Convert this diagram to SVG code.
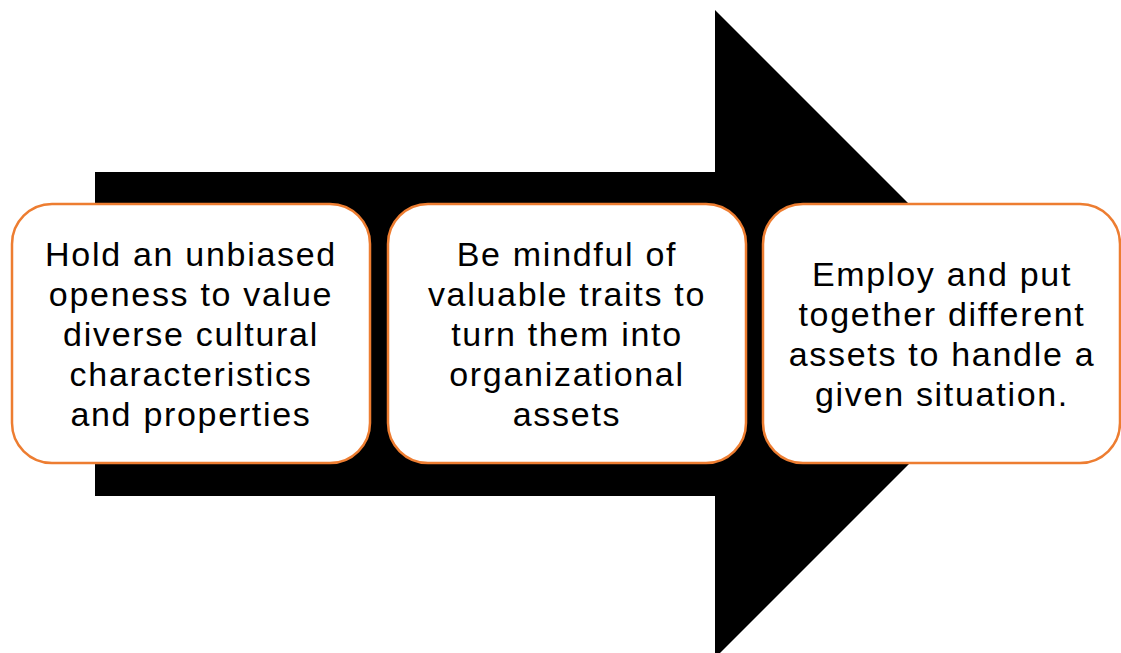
<svg xmlns="http://www.w3.org/2000/svg" width="1121" height="653" viewBox="0 0 1121 653">
<style>
.box{fill:#ffffff;stroke:#ED7D31;stroke-width:2.5}
.t{font-family:"Liberation Sans",Arial,Helvetica,sans-serif;font-size:34px;letter-spacing:1.7px;fill:#000;text-anchor:middle}
</style>
<rect width="1121" height="653" fill="#ffffff"/>
<g id="arrow">
<polygon points="95,172 715,172 715,10 1039,334 715,658 715,496 95,496" fill="#000000"/>
</g>
<g id="connectors"></g>
<g id="node1">
<rect class="box" x="12" y="204" width="358" height="259" rx="40" ry="40"/>
<text class="t"><tspan x="191" y="266">Hold an unbiased</tspan><tspan x="191" y="306">openess to value</tspan><tspan x="191" y="346">diverse cultural</tspan><tspan x="191" y="386">characteristics</tspan><tspan x="191" y="426">and properties</tspan></text>
</g>
<g id="node2">
<rect class="box" x="388" y="204" width="358" height="259" rx="40" ry="40"/>
<text class="t"><tspan x="567" y="266">Be mindful of</tspan><tspan x="567" y="306">valuable traits to</tspan><tspan x="567" y="346">turn them into</tspan><tspan x="567" y="386">organizational</tspan><tspan x="567" y="426">assets</tspan></text>
</g>
<g id="node3">
<rect class="box" x="763" y="204" width="357" height="259" rx="40" ry="40"/>
<text class="t"><tspan x="942" y="286">Employ and put</tspan><tspan x="942" y="326">together different</tspan><tspan x="942" y="366">assets to handle a</tspan><tspan x="942" y="406">given situation.</tspan></text>
</g>
</svg>
